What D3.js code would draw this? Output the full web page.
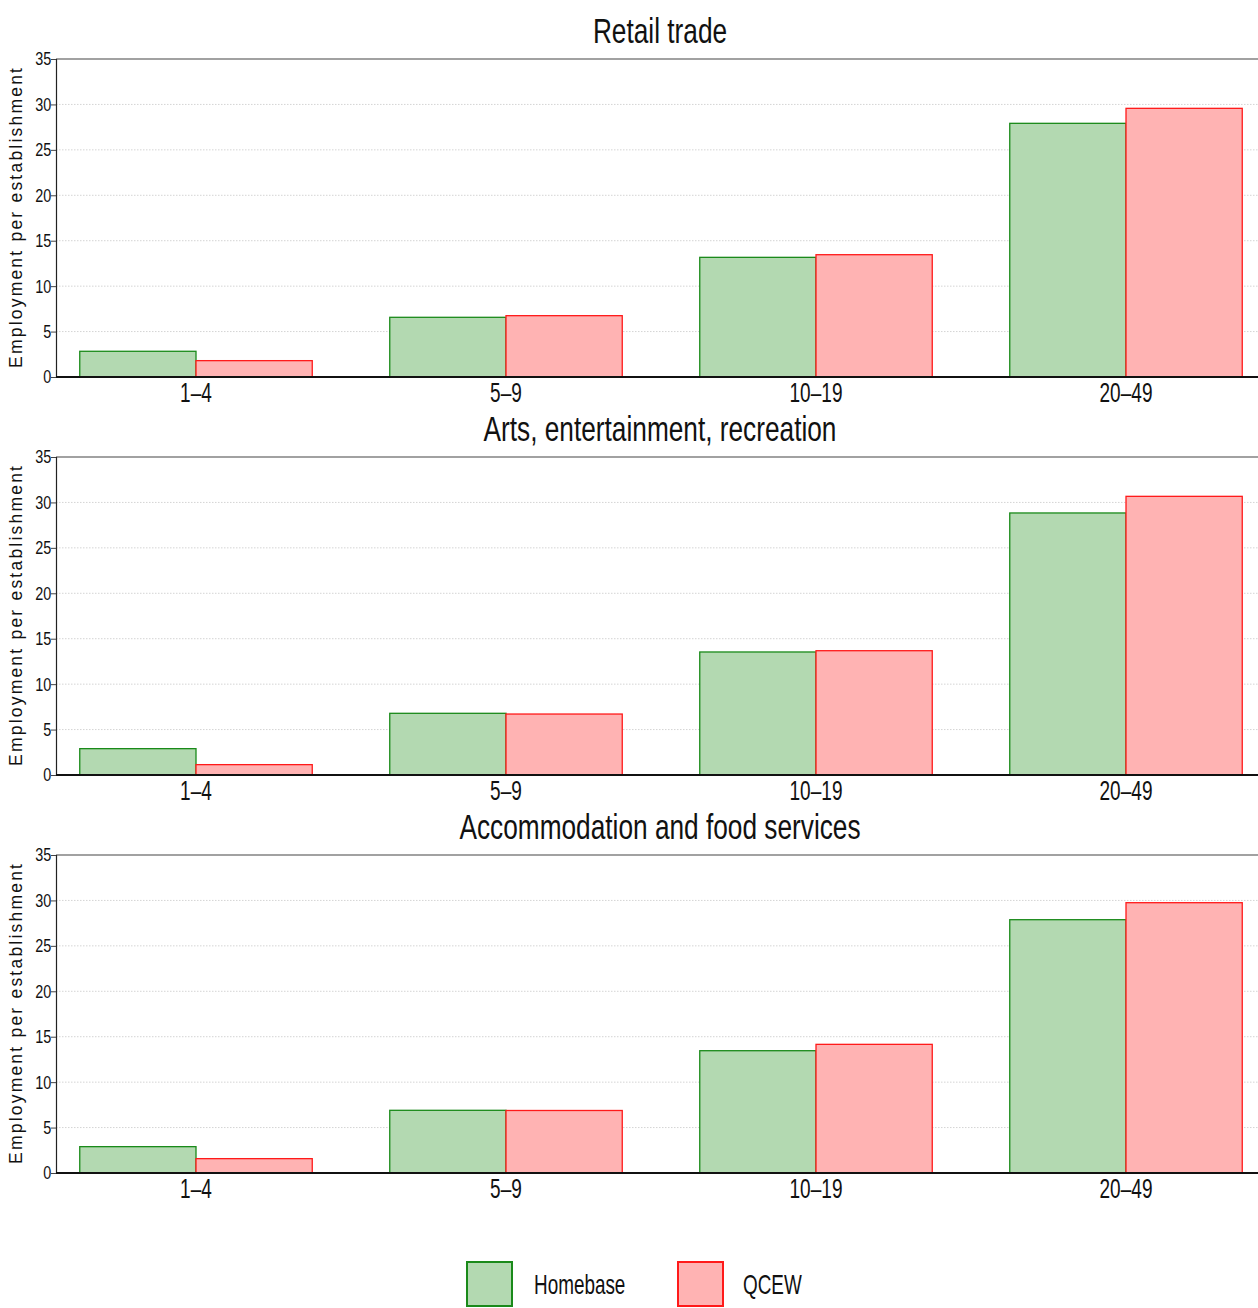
<!DOCTYPE html>
<html>
<head>
<meta charset="utf-8">
<script src="https://cdn.jsdelivr.net/npm/d3@7"></script>
<style>
  html, body { margin: 0; padding: 0; background: #fff; }
  svg { display: block; }
</style>
</head>
<body>
<svg id="chart" width="1258" height="1308"></svg>
<script>
const categories = ["1–4", "5–9", "10–19", "20–49"];
const seriesNames = ["Homebase", "QCEW"];
const panelTitles = ["Retail trade", "Arts, entertainment, recreation", "Accommodation and food services"];
const yTicks = [0, 5, 10, 15, 20, 25, 30, 35];
const yLabel = "Employment per establishment";

const retailHomebase = [2.83, 6.57, 13.17, 27.92];
const retailQCEW     = [1.80, 6.75, 13.46, 29.57];
const artsHomebase   = [2.90, 6.79, 13.54, 28.84];
const artsQCEW       = [1.14, 6.71, 13.68, 30.67];
const accomHomebase  = [2.90, 6.90, 13.46, 27.88];
const accomQCEW      = [1.58, 6.88, 14.16, 29.75];

const panelData = [
  [retailHomebase, retailQCEW],
  [artsHomebase, artsQCEW],
  [accomHomebase, accomQCEW]
];

const fills = ["#b3d9b1", "#ffb3b3"];
const strokes = ["#1a8a1a", "#ff1a1a"];

const svg = d3.select("#chart");
const font = "'Liberation Sans', Arial, Helvetica, sans-serif";

const plotLeft = 56, plotRight = 1258;
const panelTop0 = 59, panelStep = 398, panelH = 318;

const x = d3.scaleBand().domain(categories).range([41, 1281]).paddingInner(0.25).paddingOuter(0.125);
const xs = d3.scaleBand().domain(seriesNames).range([0, x.bandwidth()]);

panelData.forEach((series, p) => {
  const top = panelTop0 + p * panelStep;
  const y = d3.scaleLinear().domain([0, 35]).range([top + panelH, top]);
  const g = svg.append("g");

  // gridlines
  g.selectAll("line.grid").data(yTicks.filter(t => t > 0 && t < 35)).enter()
    .append("line")
    .attr("x1", plotLeft).attr("x2", plotRight)
    .attr("y1", d => y(d)).attr("y2", d => y(d))
    .attr("stroke", "#d4d4d4").attr("stroke-width", 1)
    .attr("stroke-dasharray", "1.5,1.5");

  // top border
  g.append("line")
    .attr("x1", plotLeft).attr("x2", plotRight)
    .attr("y1", y(35)).attr("y2", y(35))
    .attr("stroke", "#444").attr("stroke-width", 1.2);

  // bars
  categories.forEach((c, i) => {
    seriesNames.forEach((s, k) => {
      const v = series[k][i];
      g.append("rect")
        .attr("x", x(c) + xs(s))
        .attr("y", y(v))
        .attr("width", xs.bandwidth())
        .attr("height", y(0) - y(v))
        .attr("fill", fills[k])
        .attr("stroke", strokes[k])
        .attr("stroke-width", 1.3);
    });
  });

  // y axis
  const yAxis = d3.axisLeft(y).tickValues(yTicks).tickSize(5).tickPadding(1).tickFormat(d3.format("d"));
  const ya = g.append("g").attr("transform", `translate(${plotLeft},0)`).call(yAxis);
  ya.select(".domain").attr("stroke", "#222").attr("stroke-width", 1.2);
  ya.selectAll(".tick line").attr("stroke", "#444");
  ya.selectAll(".tick text")
    .attr("font-family", font).attr("font-size", 18.5).attr("fill", "#111")
    .attr("transform", "scale(0.78,1)");

  // x baseline
  g.append("line")
    .attr("x1", plotLeft).attr("x2", plotRight)
    .attr("y1", y(0)).attr("y2", y(0))
    .attr("stroke", "#111").attr("stroke-width", 2);

  // x tick labels
  g.selectAll("text.xl").data(categories).enter()
    .append("text")
    .attr("transform", d => `translate(${x(d) + x.bandwidth() / 2},${y(0) + 25}) scale(0.68,1)`)
    .attr("text-anchor", "middle")
    .attr("font-family", font).attr("font-size", 28).attr("fill", "#111")
    .text(d => d);

  // title
  g.append("text")
    .attr("transform", `translate(660,${top - 16}) scale(0.75,1)`)
    .attr("text-anchor", "middle")
    .attr("font-family", font).attr("font-size", 35).attr("fill", "#111")
    .text(panelTitles[p]);

  // y label
  g.append("text")
    .attr("transform", `translate(22,${top + panelH / 2}) rotate(-90)`)
    .attr("text-anchor", "middle")
    .attr("font-family", font).attr("font-size", 17.5).attr("fill", "#111")
    .attr("textLength", 300).attr("lengthAdjust", "spacing")
    .text(yLabel);
});

// legend
const legendX = [467, 678];
const legendTextX = [534, 743];
const lg = svg.append("g");
seriesNames.forEach((s, k) => {
  lg.append("rect")
    .attr("x", legendX[k]).attr("y", 1262)
    .attr("width", 45).attr("height", 44)
    .attr("fill", fills[k]).attr("stroke", strokes[k]).attr("stroke-width", 2);
  lg.append("text")
    .attr("transform", `translate(${legendTextX[k]},1294) scale(0.70,1)`)
    .attr("font-family", font).attr("font-size", 27).attr("fill", "#111")
    .text(s);
});
</script>
</body>
</html>
